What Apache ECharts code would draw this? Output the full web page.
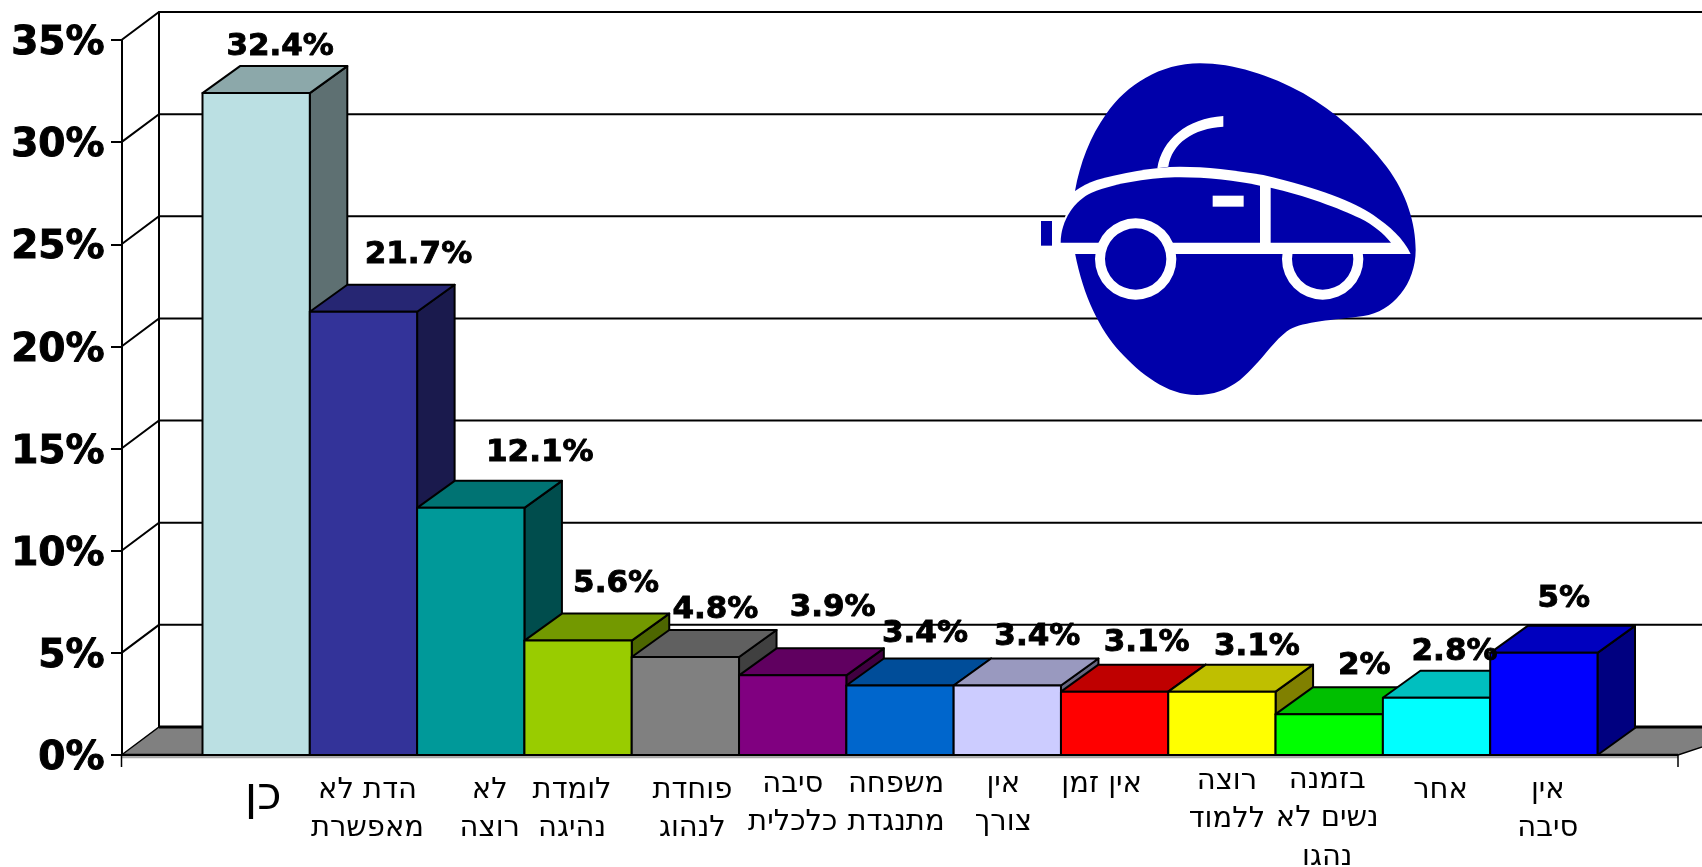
<!DOCTYPE html>
<html lang="he">
<head>
<meta charset="utf-8">
<style>html,body{margin:0;padding:0;background:#fff}#c{width:1702px;height:867px}</style>
<script src="https://cdn.jsdelivr.net/npm/echarts@6/dist/echarts.min.js"></script>
</head>
<body>
<div id="c"></div>
<script>
// ---------- data ----------
const categories = ['כן','הדת לא\nמאפשרת','לא\nרוצה','לומדת\nנהיגה','פוחדת\nלנהוג','סיבה\nכלכלית','משפחה\nמתנגדת','אין\nצורך','אין זמן','רוצה\nללמוד','בזמנה\nנשים לא\nנהגו','אחר','אין\nסיבה'];
const values = [32.4,21.7,12.1,5.6,4.8,3.9,3.4,3.4,3.1,3.1,2,2.8,5];
const yTicks = [0,5,10,15,20,25,30,35];

// ---------- styling / layout ----------
const barColors = ['#BBE0E3','#333399','#009999','#99CC00','#808080','#800080','#0066CC','#CCCCFF','#FF0000','#FFFF00','#00FF00','#00FFFF','#0000FF'];
const labelShiftX = [7,4,19,-6,7,0,-4,-4,-13,5,-2,4,4];
const labelPadTop = [23,16,16,16,16,10,10,10,10,7,6,16,16];
const labelFont = [46,29,29,29,29,29,29,29,29,29,29,29,29];
const valueDx = [24,55,69,38,30,40,25,30,32,35,35,18,20];
const valueDy = [-46,-57,-55,-57,-47,-67,-52,-49,-49,-45,-48,-46,-54];
const DX = 37.5, DY = 28, BAR_DY = 27;
const AXIS_X = 121.5, AXIS_END = 1678;
const FONT = '"DejaVu Sans", Verdana, sans-serif';

function shade(hex, f){
  const n = parseInt(hex.slice(1),16);
  const c = [n>>16&255,n>>8&255,n&255].map(v=>Math.round(v*f));
  return 'rgb('+c.join(',')+')';
}
const BLK = {stroke:'#000',lineWidth:2};

function renderBack(params, api){
  const v = api.value(0);
  const y = api.coord([0,v])[1];
  const W = api.getWidth();
  const kids = [];
  if (v === 0){
    kids.push({type:'polygon',shape:{points:[[AXIS_X,y],[AXIS_X+DX,y-DY],[W+60,y-DY],[AXIS_END,y]]},style:{fill:'#808080',stroke:'#000',lineWidth:1.5}});
    kids.push({type:'line',shape:{x1:AXIS_X+DX,y1:y-DY,x2:W,y2:y-DY},style:{stroke:'#000',lineWidth:3}});
    kids.push({type:'line',shape:{x1:AXIS_X+DX,y1:y-DY,x2:AXIS_X+DX,y2:11.5},style:BLK});
    kids.push({type:'line',shape:{x1:AXIS_X,y1:y+2.5,x2:AXIS_END,y2:y+2.5},style:{stroke:'#aaa',lineWidth:1.5}});
    kids.push({type:'line',shape:{x1:AXIS_X,y1:y,x2:AXIS_END,y2:y},style:{stroke:'#000',lineWidth:2.5}});
    kids.push({type:'line',shape:{x1:AXIS_X,y1:y,x2:AXIS_X,y2:y+12},style:{stroke:'#000',lineWidth:1.5}});
    kids.push({type:'line',shape:{x1:AXIS_END,y1:y,x2:AXIS_END,y2:y+12},style:{stroke:'#000',lineWidth:1.5}});
  } else {
    kids.push({type:'polyline',shape:{points:[[AXIS_X,y],[AXIS_X+DX,y-DY],[W,y-DY]]},style:{fill:'none',stroke:'#000',lineWidth:2}});
  }
  return {type:'group',children:kids};
}

function renderBar(params, api){
  const i = api.value(0);
  const top = api.coord([i,api.value(1)]);
  const base = api.coord([i,0]);
  const w = api.size([1,0])[0];
  const x0 = top[0]-w/2, x1 = top[0]+w/2, yt = top[1], yb = base[1];
  const c = barColors[i];
  const ls = {stroke:'#000',lineWidth:2,lineJoin:'round'};
  return {type:'group',children:[
    {type:'polygon',shape:{points:[[x1,yt],[x1+DX,yt-BAR_DY],[x1+DX,yb-BAR_DY],[x1,yb]]},style:Object.assign({fill:shade(c,0.5)},ls)},
    {type:'polygon',shape:{points:[[x0,yt],[x0+DX,yt-BAR_DY],[x1+DX,yt-BAR_DY],[x1,yt]]},style:Object.assign({fill:shade(c,0.75)},ls)},
    {type:'rect',shape:{x:x0,y:yt,width:x1-x0,height:yb-yt},style:Object.assign({fill:c},ls)}
  ]};
}

function renderValue(params, api){
  const i = api.value(0);
  const p = api.coord([i,api.value(1)]);
  return {type:'text',style:{text:api.value(1)+'%',x:p[0]+valueDx[i],y:p[1]+valueDy[i],align:'center',verticalAlign:'middle',fontFamily:FONT,fontWeight:'bold',fontSize:31,fill:'#000',stroke:'#000',lineWidth:0.9}};
}

// logo outlines, written in a 1260x1080 box and fitted to its place on the page
const GUARD = 'M0 0L0 0M1260 1080L1260 1080';
const LOGO_BLUE = '#0000AA';
const cx=x=>1020+x/3, cy=y=>50+y/3;
function logoPath(d,fill){
  return {type:'path',shape:{pathData:GUARD+d,x:1020,y:50,width:420,height:360,layout:'cover'},style:{fill:fill}};
}
function logoCircle(x,y,r,fill){
  return {type:'circle',shape:{cx:cx(x),cy:cy(y),r:r/3},style:{fill:fill}};
}
function renderLogo(){
  return {type:'group',children:[
    logoPath('M540 40C640 40 750 75 850 130C945 185 1030 260 1100 350C1160 430 1187 520 1187 600C1187 700 1120 785 1030 798C940 810 850 815 810 838C760 870 730 930 660 990C620 1020 580 1035 530 1035C440 1035 360 970 300 905C240 840 190 740 165 610L165 423C180 340 210 260 260 190C320 105 420 40 540 40Z',LOGO_BLUE),
    logoCircle(908,627,122,'#fff'),
    logoCircle(908,627,92,LOGO_BLUE),
    logoPath('M122 612L1172 612C1150 565 1110 530 1060 495C1000 455 900 415 730 375C640 360 560 350 480 350C400 350 300 370 230 390C205 398 185 410 165 423L135 500L122 578Z','#FFFFFF'),
    logoPath('M122 578C122 510 165 450 215 428C290 398 400 382 480 382C560 382 650 392 720 407L720 578Z',LOGO_BLUE),
    logoPath('M752 413C850 435 960 475 1020 505C1060 525 1090 550 1113 578L752 578Z',LOGO_BLUE),
    logoPath('M412 355C425 270 500 205 610 198L610 230C520 235 455 280 445 350Z','#FFFFFF'),
    logoPath('M578 437L671 437L671 470L578 470Z','#FFFFFF'),
    logoPath('M63 513L96 513L96 587L63 587Z',LOGO_BLUE),
    logoCircle(347,627,122,'#fff'),
    logoCircle(347,627,92,LOGO_BLUE)
  ]};
}

const chart = echarts.init(document.getElementById('c'),null,{renderer:'canvas'});
chart.setOption({
  animation:false,
  backgroundColor:'#fff',
  grid:{left:202.5,right:104.5,top:40,bottom:112,containLabel:false,outerBoundsMode:'none'},
  xAxis:{
    type:'category',
    data:categories.map((c,i)=>({
      value:c,
      textStyle:{
        fontSize:labelFont[i],
        padding:[labelPadTop[i],labelShiftX[i]<0?-2*labelShiftX[i]:0,0,labelShiftX[i]>0?2*labelShiftX[i]:0]
      }
    })),
    axisLine:{show:false},axisTick:{show:false},
    axisLabel:{interval:0,margin:0,fontFamily:FONT,fontSize:29,color:'#000',lineHeight:38.5,verticalAlign:'top',hideOverlap:false}
  },
  yAxis:{
    type:'value',min:0,max:35,interval:5,offset:81,
    axisLine:{show:true,lineStyle:{color:'#000',width:2}},
    axisTick:{show:true,length:10.5,lineStyle:{color:'#000',width:2}},
    splitLine:{show:false},
    axisLabel:{formatter:'{value}%',margin:17,verticalAlign:'top',lineHeight:8,fontFamily:FONT,fontWeight:'bold',fontSize:39,color:'#000',textBorderColor:'#000',textBorderWidth:1}
  },
  series:[
    {type:'custom',z:1,silent:true,renderItem:renderBack,encode:{x:-1,y:0},data:yTicks.map(v=>[v])},
    {type:'custom',z:2,silent:true,renderItem:renderBar,encode:{x:0,y:1},data:values.map((v,i)=>[i,v])},
    {type:'custom',z:3,silent:true,coordinateSystem:'none',renderItem:renderLogo,data:[[0]]},
    {type:'custom',z:4,silent:true,renderItem:renderValue,encode:{x:0,y:1},data:values.map((v,i)=>[i,v])}
  ]
});
</script>
</body>
</html>
